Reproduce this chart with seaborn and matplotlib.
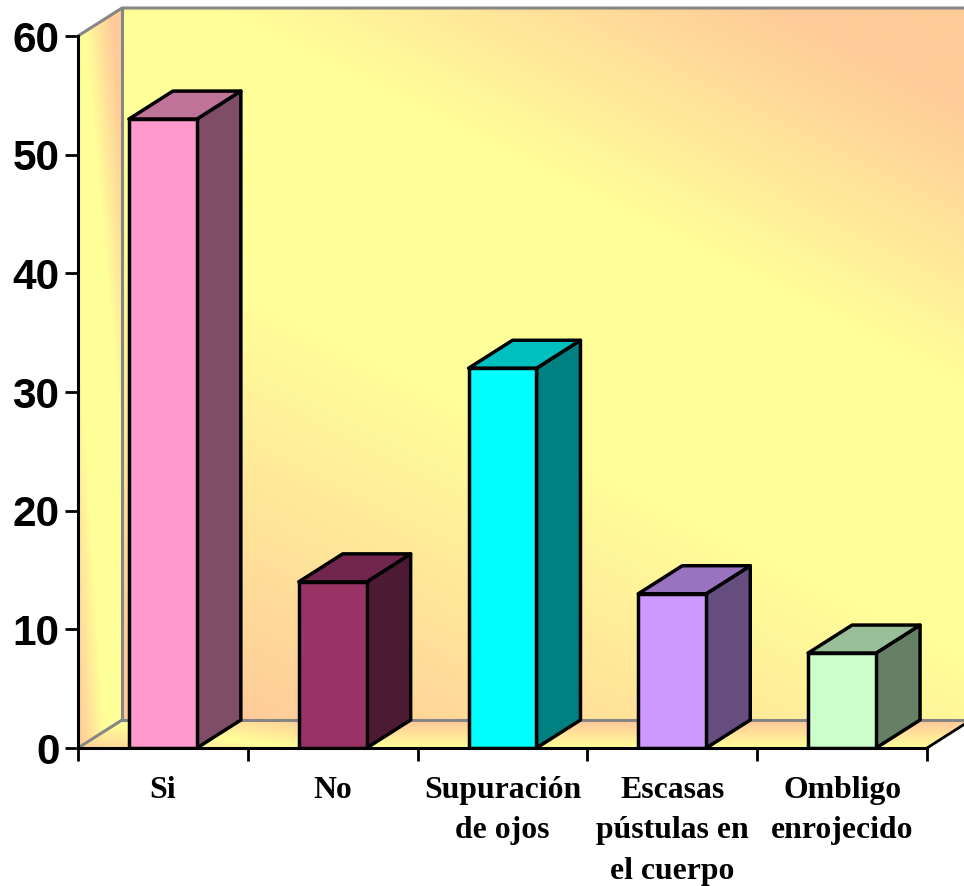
import numpy as np
import pandas as pd
import matplotlib
matplotlib.use('Agg')
import matplotlib.pyplot as plt
from matplotlib.patches import Polygon
from matplotlib.colors import to_rgb
import seaborn as sns

# data
categorias = ['Si', 'No', 'Supuración\nde ojos', 'Escasas\npústulas en\nel cuerpo', 'Ombligo\nenrojecido']
valores = [53, 14, 32, 13, 8]
yticks = [0, 10, 20, 30, 40, 50, 60]

# colors
frente = ['#FF99CC', '#993366', '#00FFFF', '#CC99FF', '#CCFFCC']
amarillo = np.array(to_rgb('#FFFF99'))
durazno = np.array(to_rgb('#FFCC99'))
gris = '#868686'

sns.set_theme(style='white')

W, H = 964, 886
fig = plt.figure(figsize=(W / 100, H / 100), dpi=100)
ax = fig.add_axes([78 / W, (H - 748) / H, 849 / W, 712 / H])

df = pd.DataFrame({'cat': categorias, 'val': valores})
sns.barplot(data=df, x='cat', y='val', hue='cat', palette=frente, legend=False,
            width=0.4, edgecolor='black', linewidth=2.5, saturation=1, ax=ax, zorder=5)

ax.set_xlim(-0.5, 4.5)
ax.set_ylim(0, 60)

# 3d depth in data units
dx = 44 / (849 / 5)
dy = 28 / (712 / 60)


# gradient amount (0 yellow, 1 peach) for each wall, u goes left to right, v top to bottom
def t_fondo(u, v):
    s = v - 0.04 - 0.6 * u
    return np.where(s < 0, (-s - 0.1) / 0.4, (s - 0.27) / 0.6)


def t_lado(u, v):
    arriba = (u - 1.4 * v - 0.15) / 0.6
    abajo = (v - u - 0.4) / 0.55
    return np.maximum(arriba, abajo)


def t_piso(u, v):
    s = v - (0.15 + 0.85 * np.minimum(u / 0.25, 1))
    return np.abs(s) * 1.1


def pared(esquinas, fu, fv, ft):
    xs = [p[0] for p in esquinas]
    ys = [p[1] for p in esquinas]
    X, Y = np.meshgrid(np.linspace(min(xs), max(xs), 500), np.linspace(max(ys), min(ys), 500))
    t = np.clip(ft(np.clip(fu(X, Y), 0, 1), np.clip(fv(X, Y), 0, 1)), 0, 1)[..., None]
    im = ax.imshow(amarillo * (1 - t) + durazno * t,
                   extent=[min(xs), max(xs), min(ys), max(ys)], aspect='auto', zorder=0)
    # walls stick out of the axes box
    im.set_clip_box(fig.bbox)
    im.set_clip_path(Polygon(esquinas, transform=ax.transData))


# back wall
pared([(-0.5 + dx, dy), (4.5 + dx, dy), (4.5 + dx, 60 + dy), (-0.5 + dx, 60 + dy)],
      lambda X, Y: (X + 0.5 - dx) / 5,
      lambda X, Y: (60 + dy - Y) / 60, t_fondo)
# side wall
pared([(-0.5, 0), (-0.5 + dx, dy), (-0.5 + dx, 60 + dy), (-0.5, 60)],
      lambda X, Y: (X + 0.5) / dx,
      lambda X, Y: (60 + dy * (X + 0.5) / dx - Y) / 60, t_lado)
# floor
pared([(-0.5, 0), (4.5, 0), (4.5 + dx, dy), (-0.5 + dx, dy)],
      lambda X, Y: (X + 0.5 - dx * Y / dy) / 5,
      lambda X, Y: 1 - Y / dy, t_piso)

ax.set_xlim(-0.5, 4.5)
ax.set_ylim(0, 60)

# wall outlines
izq, der = -0.5, 4.5
ax.plot([izq, izq + dx, der + dx], [60, 60 + dy, 60 + dy], color=gris, lw=2.2, clip_on=False, zorder=1)
ax.plot([izq + dx, izq + dx, der + dx], [60 + dy, dy, dy], color=gris, lw=2.2, clip_on=False, zorder=1)
ax.plot([izq, izq + dx], [0, dy], color=gris, lw=2.2, clip_on=False, zorder=1)
ax.plot([der, der + dx], [0, dy], color='black', lw=2, clip_on=False, zorder=2)

# side and top faces of the bars, taken from the seaborn bars
for barra, color in zip(ax.patches, frente):
    x0 = barra.get_x()
    x1 = x0 + barra.get_width()
    h = barra.get_height()
    c = np.array(to_rgb(color))
    ax.add_patch(Polygon([(x1, 0), (x1 + dx, dy), (x1 + dx, h + dy), (x1, h)], closed=True,
                         facecolor=c * 0.5, edgecolor='black', lw=2.5, joinstyle='round',
                         clip_on=False, zorder=4))
    ax.add_patch(Polygon([(x0, h), (x1, h), (x1 + dx, h + dy), (x0 + dx, h + dy)], closed=True,
                         facecolor=c * 0.75, edgecolor='black', lw=2.5, joinstyle='round',
                         clip_on=False, zorder=4))

# axes
sns.despine(ax=ax, top=True, right=True)
for lado in ['left', 'bottom']:
    ax.spines[lado].set_color('black')
    ax.spines[lado].set_linewidth(2.2)
    ax.spines[lado].set_zorder(6)

ax.set_xlabel('')
ax.set_ylabel('')
ax.set_yticks(yticks)
ax.set_yticklabels([str(v) for v in yticks], fontfamily='Liberation Sans', fontweight='bold', fontsize=30.5)
ax.tick_params(axis='y', length=9.4, width=2, color='black', pad=4, left=True, labelcolor='black')

# category labels sit between the ticks
ax.set_xticks(range(len(categorias)))
ax.set_xticklabels(categorias, fontfamily='Liberation Serif', fontweight='bold', fontsize=22.9,
                   linespacing=1.53, color='black')
ax.tick_params(axis='x', which='major', length=0, pad=20)
ax.set_xticks(np.arange(-0.5, 5), minor=True)
ax.tick_params(axis='x', which='minor', length=9.4, width=2, color='black', bottom=True)

fig.savefig('out.png', dpi=100)
